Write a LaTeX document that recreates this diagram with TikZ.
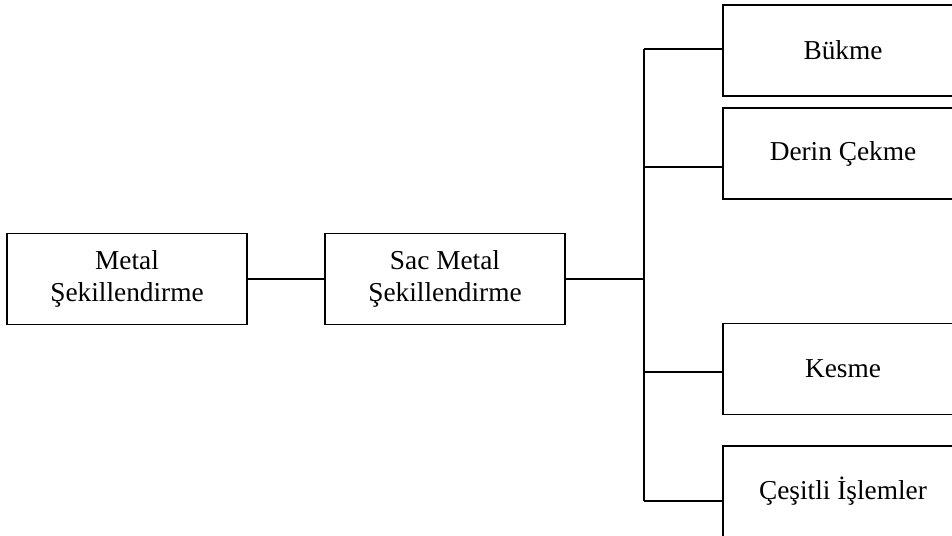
\documentclass[tikz,border=0pt]{standalone}
\usepackage{fontspec}
\setmainfont{Liberation Serif}
\usetikzlibrary{positioning}

\begin{document}
\begin{tikzpicture}[x=0.75pt,y=-0.75pt,
    box/.style={draw, line width=1.1pt, minimum width=180pt, minimum height=68pt, inner sep=0pt, align=center, font=\fontsize{20.5}{23.5}\selectfont},
    link/.style={line width=1.1pt}]

	% Frame
	\useasboundingbox (0,0) rectangle (952,535);
	\clip (0,0) rectangle (952,535);

	% Main boxes
	\node[box] (metal) at (127,279) {Metal\\Şekillendirme};
	\node[box] (sac) at (445,279) {Sac Metal\\Şekillendirme};

	% Branch boxes
	\node[box] (bukme) at (843,50.5) {Bükme};
	\node[box] (derin) at (843,153.5) {Derin Çekme};
	\node[box] (kesme) at (843,369) {Kesme};
	\node[box] (cesit) at (843,491.5) {Çeşitli İşlemler};

	% Trunk
	\coordinate (mid) at (644,279);
	\coordinate (c1) at (644,49);
	\coordinate (c2) at (644,167);
	\coordinate (c3) at (644,372);
	\coordinate (c4) at (644,501);
	\draw[link] (metal) -- (sac);
	\draw[link] (sac) -- (mid);
	\draw[link] (c1) -- (c4);

	% Branches
	\draw[link] (c1) -- (c1 -| bukme.west);
	\draw[link] (c2) -- (c2 -| derin.west);
	\draw[link] (c3) -- (c3 -| kesme.west);
	\draw[link] (c4) -- (c4 -| cesit.west);

\end{tikzpicture}
\end{document}
